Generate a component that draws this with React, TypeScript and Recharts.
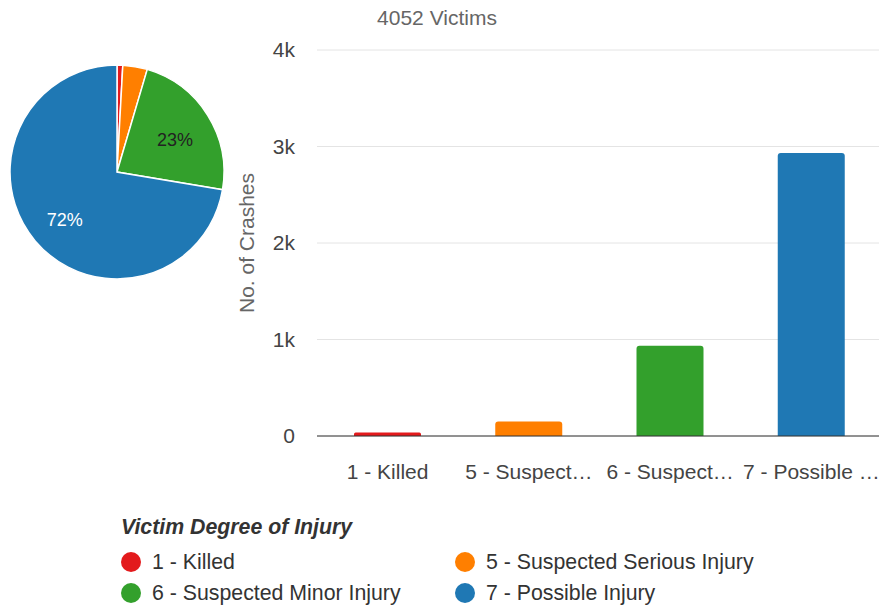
import { BarChart, Bar, XAxis, YAxis, CartesianGrid, Cell, PieChart, Pie } from 'recharts'

const categories = ['1 - Killed', '5 - Suspected Serious Injury', '6 - Suspected Minor Injury', '7 - Possible Injury']
const tickLabels = ['1 - Killed', '5 - Suspect…', '6 - Suspect…', '7 - Possible …']
const counts = [35, 150, 935, 2932]
const yTicks = [0, 1000, 2000, 3000, 4000]

const COLORS = ['#e31a1c', '#ff7f00', '#33a02c', '#1f78b4']
const FONT = '"Liberation Sans", Arial, sans-serif'

const data = categories.map((name, i) => ({ name, tick: tickLabels[i], value: counts[i] }))
const total = counts.reduce((a, b) => a + b, 0)

const RAD = Math.PI / 180

function PieLabel(props: any) {
  const { cx, cy, midAngle, outerRadius, percent, index } = props
  if (percent < 0.1) return null
  const r = outerRadius * 0.64
  const x = cx + r * Math.cos(-midAngle * RAD)
  const y = cy + r * Math.sin(-midAngle * RAD) + 4
  return (
    <text x={x} y={y} textAnchor="middle" dominantBaseline="central" fontSize={18} fontFamily={FONT}
      fill={index === 3 ? '#ffffff' : '#222222'}>
      {Math.round(percent * 100)}%
    </text>
  )
}

function XTick(props: any) {
  const { x, y, index } = props
  return (
    <text x={x} y={y} dy="0.71em" textAnchor="middle" fontSize={21} fontFamily={FONT} fill="#444">
      {tickLabels[index]}
    </text>
  )
}

export default function App() {
  return (
    <div style={{ position: 'absolute', left: 0, top: 0, width: 879, height: 607, overflow: 'hidden', background: '#fff', fontFamily: FONT }}>
      <div style={{ position: 'absolute', left: 0, top: 6, width: 874, textAlign: 'center', fontSize: 21, lineHeight: '24px', color: '#666' }}>
        {total} Victims
      </div>

      <div style={{ position: 'absolute', left: 230, top: 0 }}>
        <BarChart width={652} height={510} data={data} margin={{ top: 50, right: 0, bottom: 44, left: 7 }}>
          <CartesianGrid vertical={false} stroke="#e4e4e4" />
          <YAxis
            domain={[0, 4000]}
            ticks={yTicks}
            width={80}
            tickLine={false}
            axisLine={false}
            tickMargin={16}
            tick={{ fontSize: 21, fill: '#444', fontFamily: FONT }}
            tickFormatter={(v: number) => (v === 0 ? '0' : `${v / 1000}k`)}
            label={{ value: 'No. of Crashes', angle: -90, position: 'insideLeft', offset: 10, style: { textAnchor: 'middle', fontSize: 21, fill: '#666', fontFamily: FONT } }}
          />
          <XAxis
            dataKey="name"
            tickLine={false}
            axisLine={{ stroke: '#333' }}
            tickMargin={22}
            tick={<XTick />}
            interval={0}
          />
          <Bar dataKey="value" barSize={67} radius={[3, 3, 0, 0]} isAnimationActive={false}>
            {data.map((d, i) => (
              <Cell key={d.name} fill={COLORS[i]} />
            ))}
          </Bar>
        </BarChart>
      </div>

      <div style={{ position: 'absolute', left: 0, top: 52 }}>
        <PieChart width={240} height={240} margin={{ top: 0, right: 0, bottom: 0, left: 0 }}>
          <Pie
            data={data}
            dataKey="value"
            nameKey="name"
            cx={117}
            cy={120}
            outerRadius={107}
            startAngle={90}
            endAngle={-270}
            stroke="#fff"
            strokeWidth={1.5}
            label={PieLabel}
            labelLine={false}
            isAnimationActive={false}
          >
            {data.map((d, i) => (
              <Cell key={d.name} fill={COLORS[i]} />
            ))}
          </Pie>
        </PieChart>
      </div>

      <div style={{ position: 'absolute', left: 121, top: 515, fontSize: 21.3, lineHeight: '24px', fontWeight: 700, fontStyle: 'italic', color: '#333' }}>
        Victim Degree of Injury
      </div>
      {categories.map((name, i) => {
        const col = i % 2
        const row = Math.floor(i / 2)
        const left = col === 0 ? 121 : 455
        const top = row === 0 ? 550 : 581
        return (
          <div key={name} style={{ position: 'absolute', left, top, height: 24, display: 'flex', alignItems: 'center', fontSize: 21.3, color: '#333', whiteSpace: 'nowrap' }}>
            <span style={{ width: 20, height: 20, borderRadius: '50%', background: COLORS[i], display: 'inline-block', marginRight: 11 }} />
            {name}
          </div>
        )
      })}
    </div>
  )
}
